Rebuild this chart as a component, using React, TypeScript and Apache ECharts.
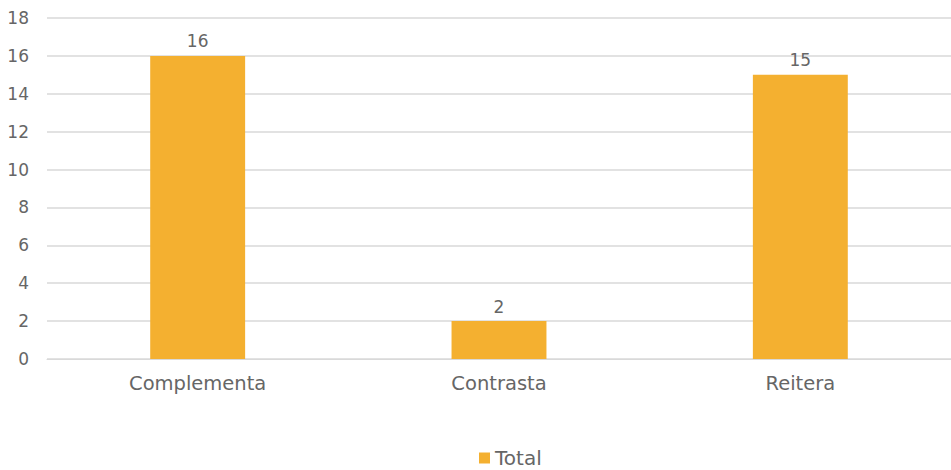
import React, { useEffect, useRef } from "react";
import * as echarts from "echarts";

const categories = ["Complementa", "Contrasta", "Reitera"];
const totals = [16, 2, 15];
const seriesName = "Total";

export default function App() {
  const ref = useRef<HTMLDivElement>(null);
  useEffect(() => {
    const chart = echarts.init(ref.current!, null, { renderer: "svg" });
    const font = "'DejaVu Sans', sans-serif";
    const color = "#666666";
    chart.setOption({
      animation: false,
      grid: { left: 47, right: 0, top: 18, bottom: 111, containLabel: false },
      legend: {
        bottom: -3,
        left: 474,
        data: [seriesName],
        itemWidth: 11,
        itemHeight: 11,
        itemGap: 6,
        icon: "rect",
        textStyle: { color, fontSize: 20, fontFamily: font },
      },
      xAxis: {
        type: "category",
        data: categories,
        axisLine: { show: true, lineStyle: { color: "#d9d9d9", width: 1 } },
        axisTick: { show: false },
        axisLabel: { color, fontSize: 19.5, fontFamily: font, margin: 14 },
      },
      yAxis: {
        type: "value",
        min: 0,
        max: 18,
        interval: 2,
        axisLine: { show: false },
        axisTick: { show: false },
        splitLine: { lineStyle: { color: "#d9d9d9", width: 1.5 } },
        axisLabel: { color, fontSize: 17, fontFamily: font, margin: 18 },
      },
      series: [
        {
          name: seriesName,
          type: "bar",
          data: totals,
          barWidth: "31.5%",
          itemStyle: { color: "#F4B030" },
          label: {
            show: true,
            position: "top",
            color,
            fontSize: 17,
            fontFamily: font,
            distance: 6,
          },
        },
      ],
    });
    return () => chart.dispose();
  }, []);
  return <div ref={ref} style={{ width: 951, height: 470, position: "absolute", left: 0, top: 0 }} />;
}
